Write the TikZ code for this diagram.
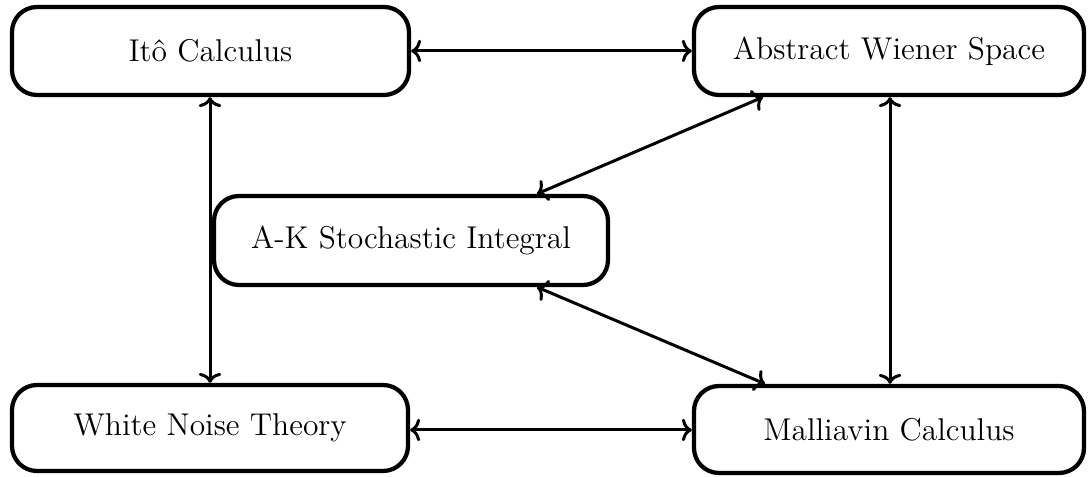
\documentclass[tikz,border=0pt]{standalone}
\usetikzlibrary{calc,arrows.meta}
\begin{document}
\begin{tikzpicture}[x=0.4pt,y=-0.4pt,
  box/.style={draw, line width=1.7pt, rounded corners=10pt, align=center,
    font=\fontsize{12.6}{15}\selectfont, inner sep=0pt},
  link/.style={{To[length=4pt,width=9pt]}-{To[length=4pt,width=9pt]}, line width=1.2pt}]
\useasboundingbox (0,0) rectangle (1088,477);
\node[box, minimum width=397*0.4pt, minimum height=88*0.4pt] (ito) at (210.5,51) {Itô Calculus};
\node[box, minimum width=390*0.4pt, minimum height=88*0.4pt] (aws) at (889,51) {Abstract Wiener Space};
\node[box, minimum width=394*0.4pt, minimum height=89*0.4pt] (ak) at (411,240.5) {A-K Stochastic Integral};
\node[box, minimum width=396*0.4pt, minimum height=86*0.4pt] (wnt) at (210,428) {White Noise Theory};
\node[box, minimum width=390*0.4pt, minimum height=87*0.4pt] (mc) at (889,429.5) {Malliavin Calculus};
\draw[link] (ito) -- (aws);
\draw[link] (wnt.east |- 0,430) -- (mc.west |- 0,430);
\draw[link] (ito.south -| 210,0) -- (wnt.north -| 210,0);
\draw[link] (aws.south -| 890,0) -- (mc.north -| 890,0);
\draw[link] ($(ak.north)+(126,0)$) -- ($(aws.south)+(-126,0)$);
\draw[link] ($(ak.south)+(126,0)$) -- ($(mc.north)+(-124,0)$);
\end{tikzpicture}
\end{document}
